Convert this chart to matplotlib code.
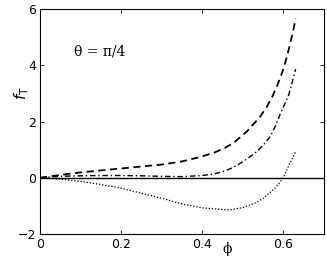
import matplotlib
matplotlib.use("Agg")
import matplotlib.pyplot as plt
import numpy as np

phi_dashed = [0.0, 0.05, 0.1, 0.15, 0.2, 0.25, 0.3, 0.35, 0.4, 0.43, 0.453, 0.477, 0.51, 0.543, 0.56, 0.574, 0.586, 0.597, 0.605, 0.613, 0.622, 0.63]
f_dashed = [0.0, 0.1, 0.19, 0.26, 0.33, 0.4, 0.47, 0.58, 0.76, 0.9, 1.04, 1.24, 1.65, 2.18, 2.55, 2.93, 3.33, 3.75, 4.12, 4.57, 5.1, 5.66]

phi_dashdot = [0.0, 0.05, 0.1, 0.15, 0.2, 0.25, 0.3, 0.35, 0.4, 0.43, 0.453, 0.475, 0.494, 0.515, 0.535, 0.552, 0.568, 0.581, 0.593, 0.603, 0.613, 0.62, 0.63]
f_dashdot = [0.0, 0.05, 0.07, 0.08, 0.08, 0.07, 0.05, 0.04, 0.08, 0.14, 0.23, 0.36, 0.52, 0.72, 0.94, 1.19, 1.48, 1.87, 2.3, 2.62, 2.95, 3.32, 3.86]

phi_dotted = [0.0, 0.05, 0.1, 0.15, 0.2, 0.25, 0.3, 0.35, 0.4, 0.45, 0.47, 0.5, 0.53, 0.55, 0.58, 0.6, 0.605, 0.617, 0.63]
f_dotted = [0.0, -0.05, -0.13, -0.24, -0.37, -0.55, -0.73, -0.93, -1.07, -1.13, -1.14, -1.06, -0.9, -0.73, -0.36, 0.0, 0.18, 0.55, 0.93]

xticks = [0, 0.2, 0.4, 0.6]
yticks = [-2, 0, 2, 4, 6]

fig = plt.figure(figsize=(3.27, 2.58), dpi=100)
ax = fig.add_axes([0.1223, 0.093, 0.8687, 0.872])

ax.plot(phi_dashed, f_dashed, color='black', linestyle=(0, (4, 2.5)), linewidth=1.3)
ax.plot(phi_dashdot, f_dashdot, color='black', linestyle=(0, (4, 2, 1, 2)), linewidth=1.0)
ax.plot(phi_dotted, f_dotted, color='black', linestyle=(0, (1, 1.5)), linewidth=0.9)
ax.axhline(0, color='black', linewidth=1.0)

ax.set_xlim(0, 0.7)
ax.set_ylim(-2, 6)
ax.set_xticks(xticks)
ax.set_xticklabels(['0', '0.2', '0.4', '0.6'])
ax.set_yticks(yticks)
ax.set_yticklabels(['\u22122', '0', '2', '4', '6'])
ax.tick_params(direction='in', top=True, right=True, length=3, width=0.6, labelsize=9, pad=3)
for s in ax.spines.values():
    s.set_linewidth(0.8)

ax.text(0.085, 4.5, '\u03b8 = \u03c0/4', fontsize=10, family='DejaVu Serif', ha='left', va='center')
fig.text(0.066, 0.64, r'$f_{\mathrm{T}}$', fontsize=11, rotation=90, ha='center', va='center')
fig.text(0.695, 0.035, '\u03d5', fontsize=10, family='DejaVu Serif', ha='center', va='center')

fig.savefig('out.png', dpi=100)
